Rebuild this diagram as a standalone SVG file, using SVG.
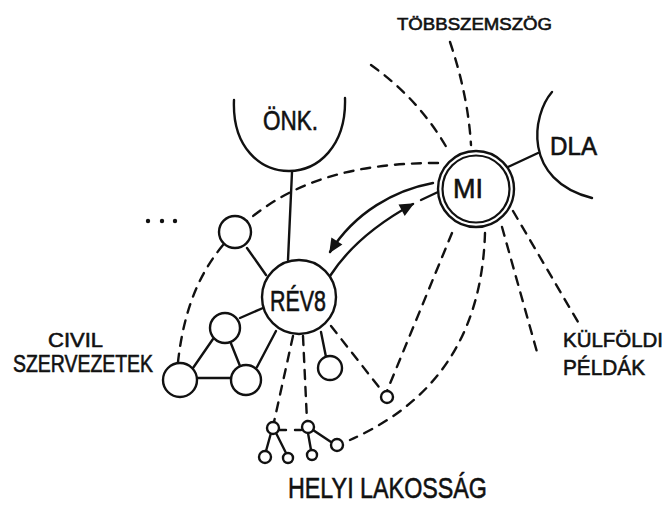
<svg xmlns="http://www.w3.org/2000/svg" width="668" height="509" viewBox="0 0 668 509">
<defs>
<style>
.ln{fill:none;stroke:#111;stroke-width:2.4;stroke-linecap:round}
.ds{fill:none;stroke:#111;stroke-width:2.4;stroke-linecap:round;stroke-dasharray:9 8}
.dt{fill:none;stroke:#111;stroke-width:2.4;stroke-linecap:round;stroke-dasharray:6 9}
.nd{fill:#fff;stroke:#111;stroke-width:2.4}
.t{font-family:"Liberation Sans","DejaVu Sans",sans-serif;fill:#111;stroke:#111;stroke-width:0.6}
</style>
<marker id="ah" viewBox="0 0 10 10" refX="9" refY="5" markerWidth="7" markerHeight="6" orient="auto" markerUnits="strokeWidth">
<path d="M0,0.5 L10,5 L0,9.5 Z" fill="#111"/>
</marker>
</defs>
<rect width="668" height="509" fill="#fff"/>

<g id="connectors">
<path class="ds" d="M438,163 C360,163 290,178 235,232 C205,262 185,300 178,362"/>
<path class="ln" d="M292,172 L288,260"/>
<path class="ln" d="M508,167 L538,153"/>
<path class="ln" d="M433,183 C395,190 355,212 330,252" marker-end="url(#ah)"/>
<path class="ln" d="M330,276 C350,245 380,222 413,204" marker-end="url(#ah)"/>
<path class="ln" d="M421,200 L438,192"/>
<path class="ds" d="M371,65 Q420,100 448,150"/>
<path class="ds" d="M450,42 Q468,95 471,145"/>
<path class="ds" d="M452,233 L387,391"/>
<path class="ds" d="M485,233 C482,330 440,400 350,440"/>
<path class="ds" d="M502,227 L537,352"/>
<path class="ds" d="M513,211 L578,322"/>
<path class="ln" d="M247,248 L266,275"/>
<path class="ln" d="M240,318 L263,308"/>
<path class="ln" d="M193,368 L213,339"/>
<path class="ln" d="M230,341 L240,366"/>
<path class="ln" d="M197,378 L232,378"/>
<path class="ln" d="M257,367 L276,331"/>
<path class="ln" d="M321,332 L326,357"/>
<path class="ds" d="M293,336 L274,422"/>
<path class="ds" d="M303,336 L307,421"/>
<path class="ds" d="M331,326 L382,391"/>
<path class="dt" d="M280,430 L302,430"/>
<path class="ln" d="M271,433 L266,451"/>
<path class="ln" d="M276,433 L286,453"/>
<path class="ln" d="M308,433 L311,450"/>
<path class="ln" d="M313,430 L331,442"/>
</g>

<g id="onk">
<path class="ln" d="M234,100 C230,195 348,195 345,98"/>
<text class="t" x="263" y="130" font-size="27" textLength="55" lengthAdjust="spacingAndGlyphs">ÖNK.</text>
</g>

<g id="dla">
<path class="ln" d="M552,92 C532,115 522,180 592,198"/>
<text class="t" x="550" y="155" font-size="25" textLength="47" lengthAdjust="spacingAndGlyphs">DLA</text>
</g>

<g id="mi">
<circle class="nd" cx="476" cy="189" r="38"/>
<circle cx="476" cy="189" r="33.5" fill="none" stroke="#111" stroke-width="2.2"/>
<text class="t" x="453" y="198" font-size="27" textLength="30" lengthAdjust="spacingAndGlyphs">MI</text>
</g>

<g id="revb">
<circle class="nd" cx="299" cy="297" r="37"/>
<text class="t" x="270" y="311" font-size="29" textLength="56" lengthAdjust="spacingAndGlyphs">RÉV8</text>
</g>

<g id="civil-nodes">
<circle class="nd" cx="235" cy="232" r="16"/>
<circle class="nd" cx="225" cy="328" r="15"/>
<circle class="nd" cx="180" cy="380" r="17"/>
<circle class="nd" cx="246" cy="380" r="15"/>
<circle class="nd" cx="330" cy="368" r="12"/>
</g>

<g id="resident-nodes">
<circle class="nd" cx="387" cy="397" r="6"/>
<circle class="nd" cx="273" cy="428" r="6"/>
<circle class="nd" cx="308" cy="427" r="6"/>
<circle class="nd" cx="265" cy="457" r="6"/>
<circle class="nd" cx="288" cy="458" r="5"/>
<circle class="nd" cx="312" cy="455" r="5"/>
<circle class="nd" cx="337" cy="445" r="6"/>
</g>

<g id="dots">
<circle cx="148" cy="221" r="2.2" fill="#111"/>
<circle cx="162" cy="221" r="2.2" fill="#111"/>
<circle cx="175" cy="221" r="2.2" fill="#111"/>
</g>

<g id="labels">
<text class="t" x="397" y="30" font-size="17" textLength="155" lengthAdjust="spacingAndGlyphs">TÖBBSZEMSZÖG</text>
<text class="t" x="48" y="347" font-size="21" textLength="55" lengthAdjust="spacingAndGlyphs">CIVIL</text>
<text class="t" x="13" y="372" font-size="24" textLength="140" lengthAdjust="spacingAndGlyphs">SZERVEZETEK</text>
<text class="t" x="563" y="347" font-size="21" textLength="100" lengthAdjust="spacingAndGlyphs">KÜLFÖLDI</text>
<text class="t" x="563" y="375" font-size="22" textLength="82" lengthAdjust="spacingAndGlyphs">PÉLDÁK</text>
<text class="t" x="288" y="498" font-size="30" textLength="199" lengthAdjust="spacingAndGlyphs">HELYI LAKOSSÁG</text>
</g>
</svg>
